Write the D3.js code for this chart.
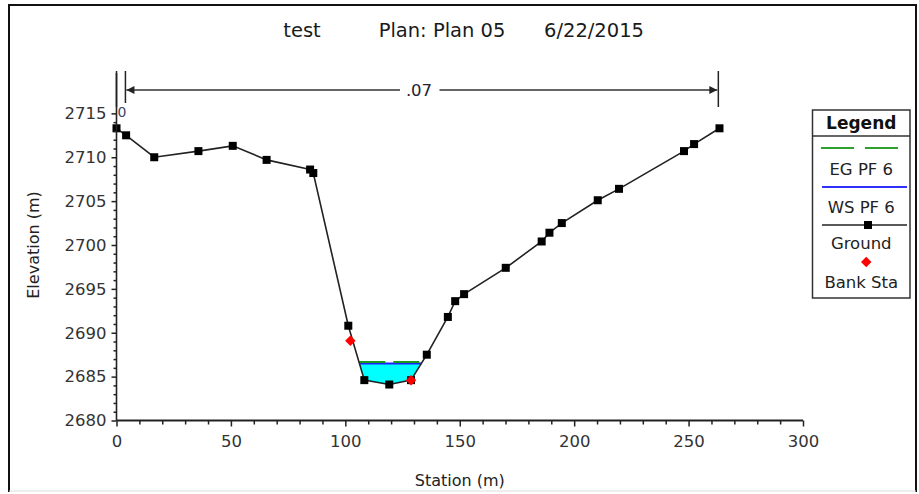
<!DOCTYPE html>
<html>
<head>
<meta charset="utf-8">
<script src="https://cdn.jsdelivr.net/npm/d3@7"></script>
<style>
  body { margin: 0; background: #fff; }
  text { font-family: "DejaVu Sans", Verdana, sans-serif; }
</style>
</head>
<body>
<div id="chart"></div>
<script>
// ground profile
const stations = [0, 4.2, 16.5, 35.8, 50.8, 65.6, 84.6, 86.0, 101.3, 108.3, 119.2, 128.7, 135.6,
  144.8, 148.0, 151.9, 170.1, 185.8, 189.2, 194.6, 210.3, 219.6, 248.0, 252.4, 263.5];
const elevations = [2713.3, 2712.5, 2710.0, 2710.7, 2711.3, 2709.7, 2708.6, 2708.2, 2690.8, 2684.6, 2684.1, 2684.6, 2687.5,
  2691.8, 2693.6, 2694.4, 2697.4, 2700.4, 2701.4, 2702.5, 2705.1, 2706.4, 2710.7, 2711.5, 2713.3];

const bankStations = [102.2, 128.7];
const bankElevations = [2689.1, 2684.6];

const wsElev = 2686.5;   // WS PF 6
const egElev = 2686.55;  // EG PF 6

// manning's n breaks
const nStations = [0, 3.9, 263];
const nLabel = ".07";

const xTicksMajor = [0, 50, 100, 150, 200, 250, 300];
const yTicksMajor = [2680, 2685, 2690, 2695, 2700, 2705, 2710, 2715];

const legendLabels = ["EG PF 6", "WS PF 6", "Ground", "Bank Sta"];

const W = 919, H = 494;
const svg = d3.select("#chart").append("svg")
  .attr("width", W).attr("height", H);

// outer frame
svg.append("path")
  .attr("d", "M9,492 L9,5 L916,5 L916,492")
  .attr("fill", "none").attr("stroke", "#111").attr("stroke-width", 2);
svg.append("line")
  .attr("x1", 9).attr("x2", 916).attr("y1", 491).attr("y2", 491)
  .attr("stroke", "#ddd");

const xScale = d3.scaleLinear().domain([0, 300]).range([116.5, 803]);
const yScale = d3.scaleLinear().domain([2680, 2720]).range([420.5, 69.5]);

// title
const titleParts = [["test", 302], ["Plan: Plan 05", 442], ["6/22/2015", 594]];
titleParts.forEach(([t, x]) => {
  svg.append("text").attr("x", x).attr("y", 37)
    .attr("text-anchor", "middle").style("font-size", "19.5px").attr("fill", "#1a1a1a")
    .text(t);
});

// water area under WS
const ground = stations.map((s, i) => [s, elevations[i]]);
function crossings(level) {
  const pts = [];
  for (let i = 0; i < ground.length - 1; i++) {
    const [s0, e0] = ground[i], [s1, e1] = ground[i + 1];
    if ((e0 - level) * (e1 - level) < 0) {
      const t = (level - e0) / (e1 - e0);
      pts.push(s0 + t * (s1 - s0));
    }
  }
  return pts;
}
const wsX = crossings(wsElev);
const wsLeft = wsX[0], wsRight = wsX[wsX.length - 1];
const waterPoly = [[wsLeft, wsElev]]
  .concat(ground.filter(d => d[0] > wsLeft && d[0] < wsRight))
  .concat([[wsRight, wsElev]]);

svg.append("path")
  .datum(waterPoly)
  .attr("d", d3.line().x(d => xScale(d[0])).y(d => yScale(d[1])).curve(d3.curveLinearClosed))
  .attr("fill", "#00ffff");

// WS line
svg.append("line")
  .attr("x1", xScale(wsLeft)).attr("x2", xScale(wsRight))
  .attr("y1", yScale(wsElev)).attr("y2", yScale(wsElev))
  .attr("stroke", "#2020ff").attr("stroke-width", 2);

// EG line (dashed green)
const egX = crossings(egElev);
svg.append("line")
  .attr("x1", xScale(egX[0])).attr("x2", xScale(egX[egX.length - 1]))
  .attr("y1", yScale(egElev) - 1).attr("y2", yScale(egElev) - 1)
  .attr("stroke", "#1a9a1a").attr("stroke-width", 2)
  .attr("stroke-dasharray", "26,8");

// ground line
svg.append("path")
  .datum(ground)
  .attr("d", d3.line().x(d => xScale(d[0])).y(d => yScale(d[1])))
  .attr("fill", "none").attr("stroke", "#222").attr("stroke-width", 1.6);

svg.selectAll("rect.gpt")
  .data(ground)
  .enter().append("rect")
  .attr("class", "gpt")
  .attr("x", d => xScale(d[0]) - 4).attr("y", d => yScale(d[1]) - 4)
  .attr("width", 8).attr("height", 8)
  .attr("fill", "#000");

// bank stations
const diamond = d3.symbol().type(d3.symbolDiamond2).size(70);
svg.selectAll("path.bank")
  .data(bankStations)
  .enter().append("path")
  .attr("class", "bank")
  .attr("d", diamond)
  .attr("transform", (d, i) => `translate(${xScale(d)},${yScale(bankElevations[i])})`)
  .attr("fill", "#ff0000");

// axes
const axisColor = "#222";
svg.append("line")
  .attr("x1", xScale(0)).attr("x2", xScale(0))
  .attr("y1", yScale(2680)).attr("y2", yScale(2719.6))
  .attr("stroke", axisColor).attr("stroke-width", 1.6);
svg.append("line")
  .attr("x1", xScale(0)).attr("x2", xScale(300))
  .attr("y1", yScale(2680)).attr("y2", yScale(2680))
  .attr("stroke", axisColor).attr("stroke-width", 2);

const yMinor = d3.range(2680, 2716, 1).filter(v => v % 5 !== 0);
const xMinor = d3.range(0, 301, 10).filter(v => v % 50 !== 0);

const yAxisMajor = svg.append("g")
  .attr("transform", `translate(${xScale(0)},0)`)
  .call(d3.axisLeft(yScale).tickValues(yTicksMajor).tickSize(5).tickPadding(5).tickFormat(d3.format("d")));
const yAxisMinor = svg.append("g")
  .attr("transform", `translate(${xScale(0)},0)`)
  .call(d3.axisLeft(yScale).tickValues(yMinor).tickSize(3).tickFormat(""));
const xAxisMajor = svg.append("g")
  .attr("transform", `translate(0,${yScale(2680)})`)
  .call(d3.axisBottom(xScale).tickValues(xTicksMajor).tickSize(6).tickPadding(8.5).tickFormat(d3.format("d")));
const xAxisMinor = svg.append("g")
  .attr("transform", `translate(0,${yScale(2680)})`)
  .call(d3.axisBottom(xScale).tickValues(xMinor).tickSize(4).tickFormat(""));

[yAxisMajor, yAxisMinor, xAxisMajor, xAxisMinor].forEach(g => {
  g.select(".domain").remove();
  g.selectAll("line").attr("stroke", axisColor).attr("stroke-width", 1.5);
  g.selectAll("text").style("font-size", "16.5px").attr("fill", "#333")
    .style("font-family", "'DejaVu Sans', Verdana, sans-serif");
});

// axis titles
svg.append("text")
  .attr("x", xScale(150)).attr("y", 486)
  .attr("text-anchor", "middle").style("font-size", "16px").attr("fill", "#222")
  .text("Station (m)");
svg.append("text")
  .attr("transform", `translate(39,${yScale(2700)})rotate(-90)`)
  .attr("text-anchor", "middle").style("font-size", "16px").attr("fill", "#222")
  .text("Elevation (m)");

// manning's n markers
const nTop = 71, arrowY = 90;
svg.selectAll("line.nbreak")
  .data(nStations)
  .enter().append("line")
  .attr("class", "nbreak")
  .attr("x1", d => xScale(d)).attr("x2", d => xScale(d))
  .attr("y1", nTop).attr("y2", (d, i) => i === 1 ? 103 : 107)
  .attr("stroke", "#222").attr("stroke-width", 1.5);

const ax0 = xScale(nStations[1]) + 1, ax1 = xScale(nStations[2]) - 1;
const labelX = 419;
svg.append("line")
  .attr("x1", ax0).attr("x2", 400).attr("y1", arrowY).attr("y2", arrowY)
  .attr("stroke", "#333").attr("stroke-width", 1.5);
svg.append("line")
  .attr("x1", 439.5).attr("x2", ax1).attr("y1", arrowY).attr("y2", arrowY)
  .attr("stroke", "#333").attr("stroke-width", 1.5);
svg.append("path")
  .attr("d", `M${ax0},${arrowY} l8,-4 l0,8 z`).attr("fill", "#222");
svg.append("path")
  .attr("d", `M${ax1},${arrowY} l-8,-4 l0,8 z`).attr("fill", "#222");
svg.append("text")
  .attr("x", labelX).attr("y", arrowY + 6)
  .attr("text-anchor", "middle").style("font-size", "16.5px").attr("fill", "#223")
  .text(nLabel);
svg.append("text")
  .attr("x", xScale(0) + 1).attr("y", 117)
  .style("font-size", "14px").attr("fill", "#446")
  .text("0");

// legend
const lg = svg.append("g");
const lx0 = 812.5, lx1 = 910, ly0 = 110, ly1 = 298;
lg.append("rect")
  .attr("x", lx0).attr("y", ly0).attr("width", lx1 - lx0).attr("height", ly1 - ly0)
  .attr("fill", "#fff").attr("stroke", "#333").attr("stroke-width", 1.5);
lg.append("line")
  .attr("x1", lx0).attr("x2", lx1).attr("y1", 136).attr("y2", 136)
  .attr("stroke", "#333").attr("stroke-width", 1.5);
lg.append("text")
  .attr("x", (lx0 + lx1) / 2).attr("y", 129)
  .attr("text-anchor", "middle").style("font-size", "17px").style("font-weight", "bold")
  .attr("fill", "#111").text("Legend");

const lcx = (lx0 + lx1) / 2;
const symY = [148, 187, 225, 262];
const txtY = [174.5, 212.5, 249, 288];
lg.append("line")
  .attr("x1", 821).attr("x2", 899).attr("y1", symY[0]).attr("y2", symY[0])
  .attr("stroke", "#2ea02e").attr("stroke-width", 2).attr("stroke-dasharray", "33,11");
lg.append("line")
  .attr("x1", 822).attr("x2", 907).attr("y1", symY[1]).attr("y2", symY[1])
  .attr("stroke", "#3030ff").attr("stroke-width", 2);
lg.append("line")
  .attr("x1", 822).attr("x2", 907).attr("y1", symY[2]).attr("y2", symY[2])
  .attr("stroke", "#222").attr("stroke-width", 1.5);
lg.append("rect")
  .attr("x", 864).attr("y", symY[2] - 4).attr("width", 8).attr("height", 8).attr("fill", "#000");
lg.append("path")
  .attr("d", diamond)
  .attr("transform", `translate(${lcx + 5},${symY[3]})`)
  .attr("fill", "#ff0000");
legendLabels.forEach((t, i) => {
  lg.append("text")
    .attr("x", lcx).attr("y", txtY[i])
    .attr("text-anchor", "middle").style("font-size", "16.5px").attr("fill", "#222")
    .text(t);
});
</script>
</body>
</html>
